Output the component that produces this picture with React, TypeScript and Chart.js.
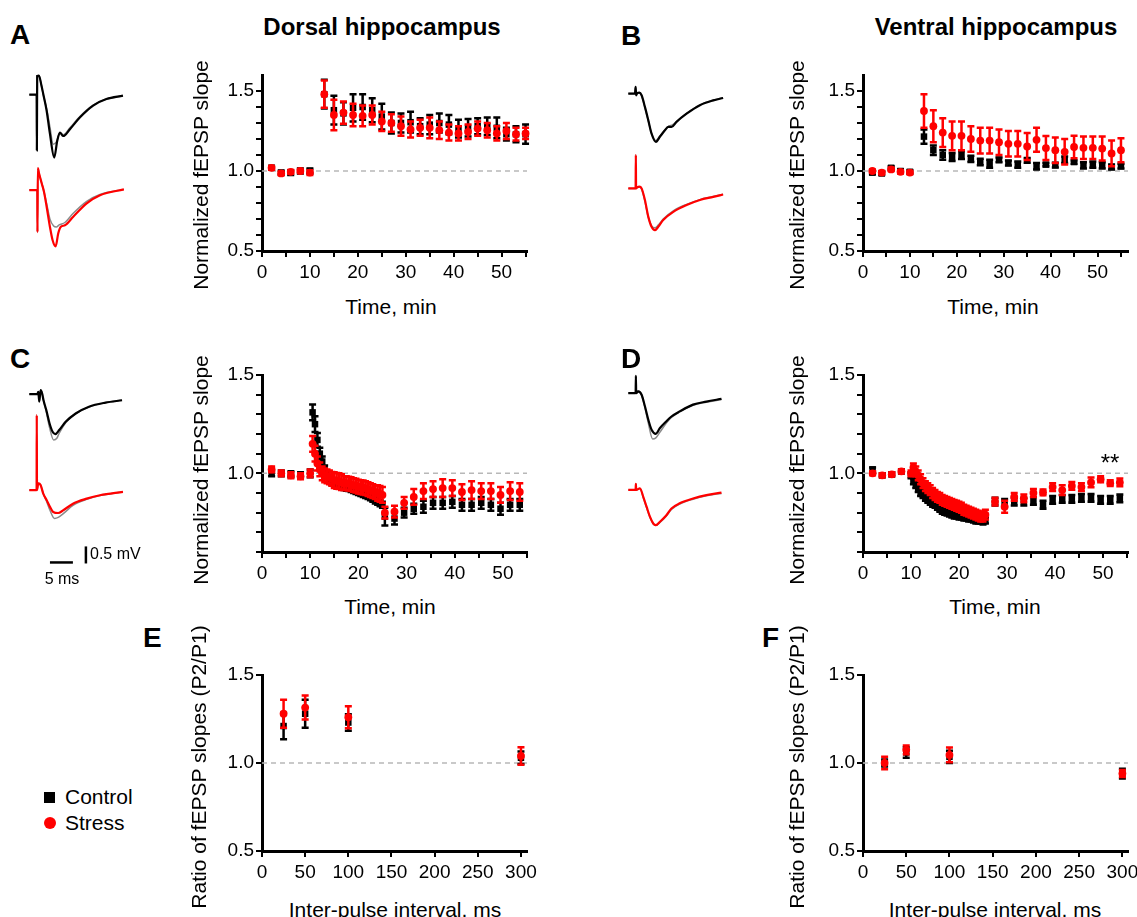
import React, { useEffect, useRef } from 'react';
import { Chart, registerables } from 'chart.js';
Chart.register(...registerables);

const FONT = '"Liberation Sans", Arial, Helvetica, sans-serif';
const BLACK = '#000000';
const RED = '#ff0000';
const GREY = '#8a8a8a';

// ---------- tick definitions ----------
const timeTicks = [0, 5, 10, 15, 20, 25, 30, 35, 40, 45, 50, 55];
const timeTickLabels = [0, 10, 20, 30, 40, 50];
const slopeTicksAB = [0.5, 0.6, 0.7, 0.8, 0.9, 1.0, 1.1, 1.2, 1.3, 1.4, 1.5];
const slopeTicksCD = [0.6, 0.7, 0.8, 0.9, 1.0, 1.1, 1.2, 1.3, 1.4, 1.5];
const slopeTickLabels = [0.5, 1.0, 1.5];
const ppiTicks = [0, 50, 100, 150, 200, 250, 300];
const ratioTicks = [0.5, 1.0, 1.5];

// ---------- LTP (A, B) ----------
const ltpTimes = [2, 4, 6, 8, 10, 13, 15, 17, 19, 21, 23, 25, 27, 29, 31, 33, 35, 37, 39, 41, 43, 45, 47, 49, 51, 53, 55];
const aCtrlMean = [1.02, 0.99, 0.99, 1.0, 1.0, 1.48, 1.38, 1.36, 1.395, 1.4, 1.38, 1.34, 1.3, 1.3, 1.305, 1.28, 1.29, 1.3, 1.29, 1.265, 1.27, 1.28, 1.28, 1.27, 1.23, 1.23, 1.23];
const aCtrlSem = [0.012, 0.012, 0.015, 0.015, 0.015, 0.09, 0.09, 0.07, 0.085, 0.08, 0.075, 0.08, 0.065, 0.06, 0.065, 0.05, 0.06, 0.06, 0.06, 0.055, 0.055, 0.05, 0.055, 0.065, 0.04, 0.05, 0.06];
const aStrMean = [1.02, 0.985, 0.995, 1.0, 0.99, 1.48, 1.35, 1.365, 1.35, 1.345, 1.35, 1.31, 1.3, 1.28, 1.26, 1.27, 1.27, 1.255, 1.24, 1.235, 1.245, 1.265, 1.255, 1.235, 1.25, 1.23, 1.235];
const aStrSem = [0.012, 0.012, 0.012, 0.012, 0.015, 0.085, 0.095, 0.07, 0.07, 0.065, 0.06, 0.06, 0.055, 0.06, 0.05, 0.05, 0.065, 0.055, 0.05, 0.045, 0.045, 0.045, 0.045, 0.045, 0.05, 0.04, 0.035];
const bCtrlMean = [0.99, 0.985, 1.02, 1.0, 0.995, 1.215, 1.13, 1.1, 1.087, 1.1, 1.076, 1.056, 1.045, 1.07, 1.05, 1.04, 1.066, 1.03, 1.04, 1.037, 1.07, 1.056, 1.035, 1.04, 1.035, 1.025, 1.03];
const bCtrlSem = [0.01, 0.01, 0.01, 0.01, 0.01, 0.045, 0.03, 0.03, 0.025, 0.025, 0.02, 0.02, 0.025, 0.015, 0.015, 0.02, 0.015, 0.02, 0.01, 0.015, 0.02, 0.01, 0.02, 0.02, 0.02, 0.015, 0.015];
const bStrMean = [1.0, 0.99, 1.01, 0.995, 0.99, 1.375, 1.28, 1.24, 1.22, 1.22, 1.2, 1.19, 1.19, 1.18, 1.17, 1.17, 1.153, 1.195, 1.143, 1.13, 1.12, 1.15, 1.145, 1.145, 1.14, 1.11, 1.13];
const bStrSem = [0.01, 0.01, 0.01, 0.01, 0.01, 0.105, 0.1, 0.09, 0.09, 0.09, 0.08, 0.08, 0.08, 0.08, 0.08, 0.08, 0.085, 0.075, 0.075, 0.08, 0.08, 0.07, 0.07, 0.07, 0.075, 0.08, 0.075];

// ---------- LTD (C, D) ----------
const ltdTimes = [2, 4, 6, 8,
  10, 10.5, 11, 11.5, 12, 12.5, 13, 13.5, 14, 14.5, 15, 15.5, 16, 16.5, 17, 17.5, 18, 18.5, 19, 19.5, 20, 20.5, 21, 21.5, 22, 22.5, 23, 23.5, 24, 24.5, 25, 25.5,
  27.5, 29.5, 31.5, 33.5, 35.5, 37.5, 39.5, 41.5, 43.5, 45.5, 47.5, 49.5, 51.5, 53.5];
const cCtrlMean = [1.0, 1.0, 0.995, 0.99,
  1.0, 1.31, 1.25, 1.17, 1.1, 1.06, 1.02, 0.99, 0.965, 0.955, 0.95, 0.945, 0.94, 0.935, 0.93, 0.927, 0.925, 0.92, 0.915, 0.91, 0.905, 0.9, 0.895, 0.89, 0.885, 0.878, 0.87, 0.862, 0.855, 0.848, 0.84, 0.78,
  0.77, 0.8, 0.82, 0.83, 0.85, 0.85, 0.855, 0.84, 0.84, 0.85, 0.84, 0.82, 0.84, 0.84];
const cCtrlSem = [0.015, 0.015, 0.015, 0.015,
  0.02, 0.04, 0.04, 0.035, 0.03, 0.025, 0.02, 0.015, 0.015, 0.015, 0.015, 0.015, 0.015, 0.015, 0.015, 0.015, 0.015, 0.015, 0.015, 0.015, 0.015, 0.015, 0.015, 0.015, 0.015, 0.015, 0.015, 0.015, 0.015, 0.015, 0.015, 0.045,
  0.03, 0.025, 0.025, 0.03, 0.03, 0.03, 0.03, 0.03, 0.03, 0.03, 0.03, 0.03, 0.03, 0.03];
const cStrMean = [1.02, 1.0, 0.99, 0.985,
  1.0, 1.15, 1.1, 1.05, 1.02, 1.0, 0.99, 0.985, 0.98, 0.972, 0.965, 0.962, 0.96, 0.955, 0.95, 0.95, 0.948, 0.945, 0.94, 0.937, 0.933, 0.93, 0.928, 0.925, 0.92, 0.915, 0.91, 0.905, 0.9, 0.895, 0.89, 0.8,
  0.805, 0.85, 0.88, 0.91, 0.92, 0.925, 0.925, 0.905, 0.915, 0.91, 0.91, 0.89, 0.91, 0.905];
const cStrSem = [0.015, 0.015, 0.015, 0.015,
  0.02, 0.04, 0.04, 0.035, 0.035, 0.035, 0.035, 0.035, 0.035, 0.035, 0.04, 0.04, 0.04, 0.04, 0.035, 0.035, 0.035, 0.035, 0.035, 0.035, 0.035, 0.035, 0.035, 0.035, 0.035, 0.035, 0.035, 0.035, 0.04, 0.04, 0.04, 0.03,
  0.03, 0.03, 0.04, 0.04, 0.04, 0.045, 0.04, 0.04, 0.045, 0.04, 0.04, 0.04, 0.045, 0.045];
const dCtrlMean = [1.02, 0.99, 0.995, 1.01,
  0.99, 0.96, 0.94, 0.92, 0.9, 0.89, 0.875, 0.865, 0.855, 0.845, 0.84, 0.83, 0.82, 0.81, 0.805, 0.8, 0.795, 0.79, 0.785, 0.785, 0.78, 0.78, 0.775, 0.775, 0.77, 0.77, 0.765, 0.76, 0.76, 0.76, 0.755, 0.76,
  0.856, 0.85, 0.856, 0.856, 0.86, 0.84, 0.865, 0.87, 0.87, 0.875, 0.875, 0.865, 0.865, 0.873];
const dCtrlSem = [0.01, 0.01, 0.01, 0.01,
  0.015, 0.015, 0.015, 0.015, 0.015, 0.015, 0.015, 0.015, 0.015, 0.015, 0.015, 0.015, 0.015, 0.015, 0.015, 0.015, 0.015, 0.015, 0.015, 0.015, 0.015, 0.015, 0.015, 0.015, 0.015, 0.015, 0.015, 0.015, 0.015, 0.015, 0.015, 0.015,
  0.02, 0.02, 0.02, 0.02, 0.02, 0.02, 0.02, 0.02, 0.02, 0.02, 0.02, 0.02, 0.02, 0.02];
const dStrMean = [1.0, 0.99, 0.995, 1.01,
  1.0, 1.03, 1.01, 0.99, 0.97, 0.95, 0.935, 0.925, 0.915, 0.9, 0.89, 0.88, 0.875, 0.865, 0.86, 0.855, 0.85, 0.845, 0.84, 0.835, 0.83, 0.825, 0.815, 0.81, 0.805, 0.8, 0.795, 0.79, 0.785, 0.78, 0.78, 0.79,
  0.856, 0.83, 0.88, 0.873, 0.9, 0.903, 0.93, 0.915, 0.936, 0.93, 0.954, 0.97, 0.95, 0.954];
const dStrSem = [0.01, 0.01, 0.01, 0.01,
  0.015, 0.02, 0.025, 0.025, 0.025, 0.025, 0.025, 0.025, 0.025, 0.025, 0.025, 0.025, 0.025, 0.025, 0.025, 0.025, 0.025, 0.025, 0.025, 0.025, 0.025, 0.025, 0.025, 0.025, 0.025, 0.025, 0.025, 0.025, 0.025, 0.025, 0.025, 0.025,
  0.02, 0.03, 0.02, 0.02, 0.02, 0.015, 0.02, 0.025, 0.02, 0.02, 0.025, 0.015, 0.015, 0.02];

// ---------- paired-pulse (E, F) ----------
const ppiIntervals = [25, 50, 100, 300];
const eCtrlMean = [1.21, 1.28, 1.23, 1.03];
const eCtrlSem = [0.075, 0.08, 0.047, 0.035];
const eStrMean = [1.28, 1.315, 1.26, 1.04];
const eStrSem = [0.08, 0.068, 0.063, 0.05];
const fCtrlMean = [1.0, 1.06, 1.035, 0.94];
const fCtrlSem = [0.02, 0.03, 0.035, 0.028];
const fStrMean = [1.0, 1.075, 1.046, 0.94];
const fStrSem = [0.035, 0.025, 0.042, 0.02];

// ---------- example traces: [time ms, mV] ----------
type Pt = [number, number];
const trA_ctrl: Pt[] = [[0, 0], [1.6, 0], [1.65, -1.63], [1.72, 0.55], [2.1, 0.56], [2.6, 0.3], [3.04, 0.02], [3.78, -0.47], [4.5, -1.15], [5.43, -1.84], [6.09, -1.35], [6.67, -1.11], [7.4, -1.21], [8.85, -1.01], [11.0, -0.67], [13.9, -0.32], [16.8, -0.13], [20.4, -0.03]];
const trA_ctrlBase: Pt[] = [[0, 0], [1.6, 0], [1.65, -1.63], [1.72, 0.55], [2.1, 0.56], [2.6, 0.3], [3.04, 0.0], [3.78, -0.42], [4.5, -0.95], [5.2, -1.45], [5.9, -1.38], [6.67, -1.12], [7.4, -1.17], [8.85, -0.97], [11.0, -0.64], [13.9, -0.31], [16.8, -0.13], [20.4, -0.03]];
const trA_str: Pt[] = [[0, 0], [1.74, 0], [1.78, -1.23], [1.86, 0.64], [2.1, 0.5], [2.7, 0.2], [3.2, -0.05], [3.78, -0.49], [4.5, -1.08], [5.08, -1.47], [5.74, -1.65], [6.3, -1.27], [6.83, -1.08], [7.76, -1.03], [9.57, -0.78], [12.5, -0.39], [15.4, -0.15], [20.6, 0.02]];
const trA_strBase: Pt[] = [[0, 0], [1.74, 0], [1.78, -1.23], [1.86, 0.64], [2.1, 0.5], [2.7, 0.2], [3.2, -0.05], [3.78, -0.4], [4.5, -0.85], [5.3, -1.05], [5.9, -1.08], [6.5, -1.02], [7.76, -0.95], [9.57, -0.68], [12.5, -0.33], [15.4, -0.13], [20.6, 0.02]];
const trB_ctrl: Pt[] = [[0, 0], [1.45, 0], [1.6, 0.2], [1.7, -0.05], [1.96, 0.02], [2.39, 0.03], [2.9, -0.05], [3.62, -0.39], [4.35, -0.78], [5.07, -1.18], [6.01, -1.42], [6.88, -1.27], [7.97, -1.08], [8.7, -0.98], [9.42, -0.98], [10.5, -0.83], [12.7, -0.59], [15.6, -0.34], [18.5, -0.2], [20.65, -0.13]];
const trB_ctrlBase: Pt[] = [[0, 0], [1.45, 0], [1.6, 0.2], [1.7, -0.05], [1.96, 0.02], [2.39, 0.03], [2.9, -0.06], [3.62, -0.4], [4.35, -0.8], [5.07, -1.17], [5.95, -1.38], [6.88, -1.25], [7.97, -1.06], [8.9, -0.95], [9.6, -0.92], [10.5, -0.82], [12.7, -0.58], [15.6, -0.33], [18.5, -0.19], [20.65, -0.12]];
const trB_str: Pt[] = [[0, 0], [1.6, 0], [1.64, 0.98], [1.7, 0], [1.96, 0.03], [2.39, 0.05], [2.9, 0], [3.62, -0.34], [4.35, -0.83], [5.07, -1.13], [5.8, -1.23], [6.52, -1.13], [7.6, -0.93], [9.8, -0.69], [12.7, -0.49], [15.6, -0.34], [18.5, -0.25], [20.65, -0.18]];
const trB_strBase: Pt[] = [[0, 0], [1.6, 0], [1.64, 0.98], [1.7, 0], [1.96, 0.03], [2.39, 0.04], [2.9, -0.02], [3.62, -0.38], [4.35, -0.85], [5.07, -1.1], [5.8, -1.16], [6.52, -1.08], [7.6, -0.9], [9.8, -0.66], [12.7, -0.47], [15.6, -0.33], [18.5, -0.24], [20.65, -0.17]];
const trC_ctrl: Pt[] = [[0, 0], [1.74, 0], [1.96, 0.07], [2.17, -0.22], [2.46, 0.12], [2.8, 0.02], [3.1, -0.18], [3.7, -0.47], [4.4, -0.86], [5.07, -1.11], [5.65, -1.18], [6.52, -1.06], [7.97, -0.81], [10.1, -0.57], [13, -0.37], [16.6, -0.25], [20.2, -0.18]];
const trC_ctrlBase: Pt[] = [[0, 0], [1.74, 0], [1.96, 0.07], [2.17, -0.22], [2.46, 0.12], [2.8, 0.02], [3.1, -0.2], [3.7, -0.52], [4.4, -0.98], [5.3, -1.35], [6.0, -1.3], [6.52, -1.15], [7.97, -0.84], [10.1, -0.58], [13, -0.38], [16.6, -0.25], [20.2, -0.18]];
const trC_str: Pt[] = [[0, 0], [1.6, 0], [1.62, 2.2], [1.68, 0], [1.96, 0.2], [2.46, 0.15], [3.04, -0.1], [3.77, -0.29], [4.5, -0.49], [5.2, -0.64], [6.3, -0.67], [7.4, -0.59], [9.6, -0.39], [12.5, -0.25], [15.4, -0.15], [20.4, -0.05]];
const trC_strBase: Pt[] = [[0, 0], [1.6, 0], [1.62, 2.2], [1.68, 0], [1.96, 0.2], [2.46, 0.15], [3.04, -0.1], [3.77, -0.33], [4.5, -0.59], [5.5, -0.83], [6.3, -0.8], [7.4, -0.69], [9.6, -0.44], [12.5, -0.27], [15.4, -0.16], [20.4, -0.05]];
const trD_ctrl: Pt[] = [[0, 0], [1.6, 0], [1.65, 0.51], [1.72, 0], [2.17, 0.05], [2.9, -0.05], [3.62, -0.39], [4.35, -0.78], [5.07, -1.08], [6.0, -1.2], [6.9, -1.03], [8.3, -0.83], [9.4, -0.69], [11.2, -0.54], [14.1, -0.34], [17, -0.25], [20.3, -0.17]];
const trD_ctrlBase: Pt[] = [[0, 0], [1.6, 0], [1.65, 0.51], [1.72, 0], [2.17, 0.05], [2.9, -0.06], [3.62, -0.42], [4.35, -0.88], [5.3, -1.35], [6.0, -1.32], [6.9, -1.15], [8.3, -0.88], [9.4, -0.72], [11.2, -0.55], [14.1, -0.36], [17, -0.27], [20.3, -0.19]];
const trD_str: Pt[] = [[0, 0], [1.6, 0], [1.65, 0.18], [1.72, 0], [2.54, 0.05], [3.26, -0.2], [3.98, -0.49], [4.71, -0.78], [5.43, -0.98], [6.0, -1.03], [6.9, -0.93], [8.3, -0.74], [9.4, -0.54], [11.2, -0.39], [14.1, -0.25], [17, -0.15], [20.3, -0.08]];
const trD_strBase: Pt[] = [[0, 0], [1.6, 0], [1.65, 0.18], [1.72, 0], [2.54, 0.04], [3.26, -0.22], [3.98, -0.52], [4.71, -0.8], [5.43, -0.99], [6.0, -1.04], [6.9, -0.95], [8.3, -0.76], [9.4, -0.57], [11.2, -0.41], [14.1, -0.27], [17, -0.17], [20.3, -0.1]];
const scaleBarMs = 5;
const scaleBarMv = 0.5;

// ---------- plugin: error bars ----------
const errorBars = {
  id: 'errorBars',
  beforeDatasetDraw(chart: any, args: any) {
    const ds = chart.data.datasets[args.index];
    if (!ds.errors) return;
    const ys = chart.scales.y;
    const ctx = chart.ctx;
    ctx.save();
    ctx.strokeStyle = ds.borderColor;
    ctx.lineWidth = 2.5;
    args.meta.data.forEach((el: any, i: number) => {
      const v = ds.data[i].y;
      const e = ds.errors[i];
      const yt = ys.getPixelForValue(v + e);
      const yb = ys.getPixelForValue(v - e);
      const x = el.x;
      ctx.beginPath();
      ctx.moveTo(x, yt); ctx.lineTo(x, yb);
      ctx.moveTo(x - 3.5, yt); ctx.lineTo(x + 3.5, yt);
      ctx.moveTo(x - 3.5, yb); ctx.lineTo(x + 3.5, yb);
      ctx.stroke();
    });
    ctx.restore();
  },
};

function ChartCanvas({ left, top, width, height, make }: any) {
  const ref = useRef<HTMLCanvasElement>(null);
  useEffect(() => {
    const chart = new Chart(ref.current as HTMLCanvasElement, make());
    return () => chart.destroy();
  }, []);
  return (
    <canvas ref={ref} width={Math.round(width)} height={Math.round(height)}
      style={{ position: 'absolute', left: Math.round(left), top: Math.round(top), width: Math.round(width), height: Math.round(height) }} />
  );
}

const Y_W = 60, X_H = 40, PAD_T = 15, PAD_R = 24;
const has = (arr: number[], v: number) => arr.some((a) => Math.abs(a - v) < 1e-6);

function makeMain(p: any) {
  const toPts = (xs: number[], ys: number[]) => xs.map((x, i) => ({ x, y: ys[i] }));
  const axisCommon = {
    type: 'linear',
    border: { color: BLACK, width: 3 },
    grid: { drawOnChartArea: false, drawTicks: true, tickLength: 6, color: BLACK, lineWidth: 2 },
  };
  return {
    type: 'scatter',
    data: {
      datasets: [
        { label: 'Stress', data: toPts(p.x, p.str), errors: p.strE, pointStyle: 'circle', pointRadius: 3.9, backgroundColor: RED, borderColor: RED, borderWidth: 0, order: 0, clip: false },
        { label: 'Control', data: toPts(p.x, p.ctrl), errors: p.ctrlE, pointStyle: 'rect', pointRadius: 4.6, backgroundColor: BLACK, borderColor: BLACK, borderWidth: 0, order: 1, clip: false },
        { label: 'ref', data: [{ x: p.xMin, y: 1 }, { x: p.xMax, y: 1 }], showLine: true, pointRadius: 0, borderColor: '#b8b8b8', borderWidth: 1.5, borderDash: [5, 4], order: 2 },
      ],
    },
    options: {
      responsive: false, animation: false, events: [],
      layout: { padding: { top: PAD_T, right: PAD_R, bottom: 0, left: 0 } },
      plugins: { legend: { display: false }, tooltip: { enabled: false } },
      scales: {
        x: {
          ...axisCommon, min: p.xMin, max: p.xMax,
          ticks: { color: BLACK, font: { family: FONT, size: 19 }, padding: 4, autoSkip: false, maxRotation: 0,
            callback: (v: number) => (has(p.xLabels, v) ? String(v) : '') },
          afterBuildTicks: (s: any) => { s.ticks = p.xTicks.map((v: number) => ({ value: v })); },
          afterFit: (s: any) => { s.height = X_H; s.paddingLeft = 0; s.paddingRight = 0; },
        },
        y: {
          ...axisCommon, min: p.yMin, max: p.yMax,
          ticks: { color: BLACK, font: { family: FONT, size: 19 }, padding: 2, autoSkip: false,
            callback: (v: number) => (has(p.yLabels, v) ? v.toFixed(1) : '') },
          afterBuildTicks: (s: any) => { s.ticks = p.yTicks.map((v: number) => ({ value: v })); },
          afterFit: (s: any) => { s.width = Y_W; s.paddingTop = 0; s.paddingBottom = 0; },
        },
      },
    },
    plugins: [errorBars],
  };
}

function MainPanel({ p }: any) {
  const { l, t, r, b } = p.area;
  return <ChartCanvas left={l - Y_W} top={t - PAD_T} width={Y_W + (r - l) + PAD_R} height={PAD_T + (b - t) + X_H} make={() => makeMain(p)} />;
}

const PX_MS = 4.6, PX_MV = 34;
function TracePanel({ ox, oy, vMin, vMax, traces, bars }: any) {
  const tMin = -0.5, tMax = 21.5;
  const make = () => ({
    type: 'line',
    data: {
      datasets: [
        ...traces.map((tr: any) => ({
          data: tr.pts.map((q: Pt) => ({ x: q[0], y: q[1] })), borderColor: tr.color, borderWidth: tr.w,
          pointRadius: 0, cubicInterpolationMode: 'monotone', fill: false, order: tr.order, clip: false,
        })),
        ...(bars || []).map((bp: any) => ({
          data: bp, borderColor: BLACK, borderWidth: 2.5, pointRadius: 0, tension: 0, fill: false, order: 0, clip: false,
        })),
      ],
    },
    options: {
      responsive: false, animation: false, events: [],
      layout: { padding: 0 },
      plugins: { legend: { display: false }, tooltip: { enabled: false } },
      scales: {
        x: { type: 'linear', display: false, min: tMin, max: tMax },
        y: { type: 'linear', display: false, min: vMin, max: vMax },
      },
    },
  });
  return <ChartCanvas left={ox + tMin * PX_MS} top={oy - vMax * PX_MV} width={(tMax - tMin) * PX_MS} height={(vMax - vMin) * PX_MV} make={make} />;
}

const panels = [
  { area: { l: 262, t: 75, r: 527, b: 251 }, xMin: 0, xMax: 55.3, yMin: 0.5, yMax: 1.6, xTicks: timeTicks, xLabels: timeTickLabels, yTicks: slopeTicksAB, yLabels: slopeTickLabels, x: ltpTimes, ctrl: aCtrlMean, ctrlE: aCtrlSem, str: aStrMean, strE: aStrSem },
  { area: { l: 863, t: 75, r: 1128, b: 251 }, xMin: 0, xMax: 56.5, yMin: 0.5, yMax: 1.6, xTicks: timeTicks, xLabels: timeTickLabels, yTicks: slopeTicksAB, yLabels: slopeTickLabels, x: ltpTimes, ctrl: bCtrlMean, ctrlE: bCtrlSem, str: bStrMean, strE: bStrSem },
  { area: { l: 262, t: 375, r: 527, b: 552 }, xMin: 0, xMax: 55.0, yMin: 0.6, yMax: 1.5, xTicks: timeTicks, xLabels: timeTickLabels, yTicks: slopeTicksCD, yLabels: slopeTickLabels, x: ltdTimes, ctrl: cCtrlMean, ctrlE: cCtrlSem, str: cStrMean, strE: cStrSem },
  { area: { l: 863, t: 375, r: 1128, b: 552 }, xMin: 0, xMax: 55.2, yMin: 0.6, yMax: 1.5, xTicks: timeTicks, xLabels: timeTickLabels, yTicks: slopeTicksCD, yLabels: slopeTickLabels, x: ltdTimes, ctrl: dCtrlMean, ctrlE: dCtrlSem, str: dStrMean, strE: dStrSem },
  { area: { l: 262, t: 675, r: 527, b: 851 }, xMin: 0, xMax: 307, yMin: 0.5, yMax: 1.5, xTicks: ppiTicks, xLabels: ppiTicks, yTicks: ratioTicks, yLabels: ratioTicks, x: ppiIntervals, ctrl: eCtrlMean, ctrlE: eCtrlSem, str: eStrMean, strE: eStrSem },
  { area: { l: 863, t: 675, r: 1128, b: 851 }, xMin: 0, xMax: 306.5, yMin: 0.5, yMax: 1.5, xTicks: ppiTicks, xLabels: ppiTicks, yTicks: ratioTicks, yLabels: ratioTicks, x: ppiIntervals, ctrl: fCtrlMean, ctrlE: fCtrlSem, str: fStrMean, strE: fStrSem },
];

const barH = [{ x: 4.5, y: -2.12 }, { x: 4.5 + scaleBarMs, y: -2.12 }];
const barV = [{ x: 12.33, y: -2.15 }, { x: 12.33, y: -2.15 + scaleBarMv }];

const traceSets = [
  { ox: 29.3, oy: 94, vMin: -2.0, vMax: 0.75, traces: [{ pts: trA_ctrlBase, color: GREY, w: 1.5, order: 1 }, { pts: trA_ctrl, color: BLACK, w: 2.2, order: 0 }] },
  { ox: 29.3, oy: 190, vMin: -1.9, vMax: 0.85, traces: [{ pts: trA_strBase, color: GREY, w: 1.5, order: 1 }, { pts: trA_str, color: RED, w: 2.2, order: 0 }] },
  { ox: 628.3, oy: 93.3, vMin: -1.6, vMax: 0.4, traces: [{ pts: trB_ctrlBase, color: GREY, w: 1.5, order: 1 }, { pts: trB_ctrl, color: BLACK, w: 2.2, order: 0 }] },
  { ox: 628.3, oy: 188.3, vMin: -1.4, vMax: 1.1, traces: [{ pts: trB_strBase, color: GREY, w: 1.5, order: 1 }, { pts: trB_str, color: RED, w: 2.2, order: 0 }] },
  { ox: 29.3, oy: 394, vMin: -1.5, vMax: 0.3, traces: [{ pts: trC_ctrlBase, color: GREY, w: 1.5, order: 1 }, { pts: trC_ctrl, color: BLACK, w: 2.2, order: 0 }] },
  { ox: 29.3, oy: 490, vMin: -2.4, vMax: 2.35, traces: [{ pts: trC_strBase, color: GREY, w: 1.5, order: 1 }, { pts: trC_str, color: RED, w: 2.2, order: 0 }], bars: [barH, barV] },
  { ox: 628.3, oy: 393.3, vMin: -1.5, vMax: 0.65, traces: [{ pts: trD_ctrlBase, color: GREY, w: 1.5, order: 1 }, { pts: trD_ctrl, color: BLACK, w: 2.2, order: 0 }] },
  { ox: 628.3, oy: 490, vMin: -1.2, vMax: 0.35, traces: [{ pts: trD_strBase, color: GREY, w: 1.5, order: 1 }, { pts: trD_str, color: RED, w: 2.2, order: 0 }] },
];

function Txt({ x, y, size, bold, children, rot, align }: any) {
  const tx = align === 'left' ? '0' : '-50%';
  return (
    <div style={{ position: 'absolute', left: x, top: y, fontSize: size, fontWeight: bold ? 'bold' : 'normal', fontFamily: FONT, lineHeight: 1, whiteSpace: 'nowrap', color: '#000',
      transform: `translate(${tx},-50%)${rot ? ' rotate(-90deg)' : ''}` }}>{children}</div>
  );
}

export default function App() {
  const yTitle = 'Normalized fEPSP slope';
  return (
    <div style={{ position: 'absolute', left: 0, top: 0, width: 1137, height: 917, background: '#fff', overflow: 'hidden', fontFamily: FONT }}>
      {panels.map((p, i) => <MainPanel key={'p' + i} p={p} />)}
      {traceSets.map((t, i) => <TracePanel key={'t' + i} {...t} />)}

      <Txt x={382} y={27} size={24} bold>Dorsal hippocampus</Txt>
      <Txt x={996} y={27} size={24} bold>Ventral hippocampus</Txt>

      <Txt x={10} y={35} size={28} bold align="left">A</Txt>
      <Txt x={621} y={36} size={28} bold align="left">B</Txt>
      <Txt x={10} y={359} size={28} bold align="left">C</Txt>
      <Txt x={621} y={359} size={28} bold align="left">D</Txt>
      <Txt x={143} y={638} size={28} bold align="left">E</Txt>
      <Txt x={762} y={638} size={28} bold align="left">F</Txt>

      <Txt x={200} y={175} size={21} rot>{yTitle}</Txt>
      <Txt x={796} y={175} size={21} rot>{yTitle}</Txt>
      <Txt x={200} y={470} size={21} rot>{yTitle}</Txt>
      <Txt x={796} y={470} size={21} rot>{yTitle}</Txt>
      <Txt x={198} y={767} size={21} rot>Ratio of fEPSP slopes (P2/P1)</Txt>
      <Txt x={796} y={767} size={21} rot>Ratio of fEPSP slopes (P2/P1)</Txt>

      <Txt x={391} y={306} size={21}>Time, min</Txt>
      <Txt x={993} y={306} size={21}>Time, min</Txt>
      <Txt x={390} y={606} size={21}>Time, min</Txt>
      <Txt x={995} y={606} size={21}>Time, min</Txt>
      <Txt x={395} y={909} size={21}>Inter-pulse interval, ms</Txt>
      <Txt x={995} y={909} size={21}>Inter-pulse interval, ms</Txt>

      <Txt x={1110} y={463} size={24}>**</Txt>

      <Txt x={90} y={554} size={16} align="left">0.5 mV</Txt>
      <Txt x={62} y={579} size={16}>5 ms</Txt>

      <div style={{ position: 'absolute', left: 44, top: 792, width: 11, height: 11, background: BLACK }} />
      <Txt x={65} y={796} size={21} align="left">Control</Txt>
      <div style={{ position: 'absolute', left: 44, top: 817, width: 12, height: 12, borderRadius: '50%', background: RED }} />
      <Txt x={65} y={822} size={21} align="left">Stress</Txt>
    </div>
  );
}
